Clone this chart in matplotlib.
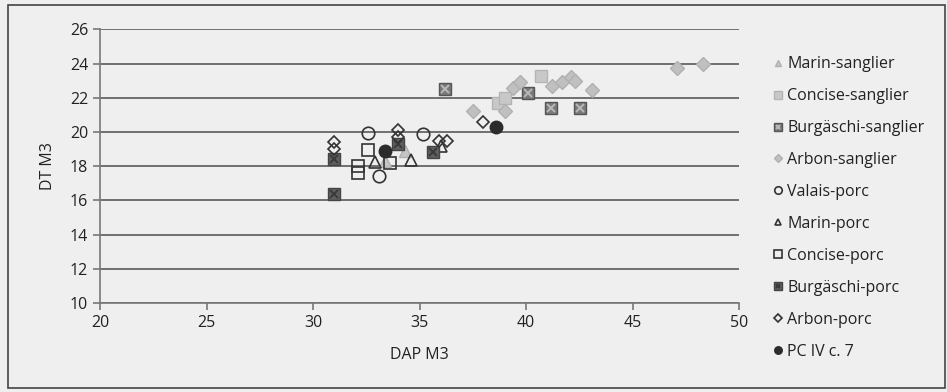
import matplotlib.pyplot as plt
from matplotlib.patches import Rectangle

plt.rcParams['font.family'] = ['Open Sans', 'DejaVu Sans']

# données (DAP M3, DT M3)
marin_sanglier_x = [33.4, 34.3]
marin_sanglier_y = [18.3, 18.9]
concise_sanglier_x = [38.7, 39.0, 40.7]
concise_sanglier_y = [21.7, 22.0, 23.3]
burg_sanglier_x = [36.2, 40.1, 41.15, 42.55]
burg_sanglier_y = [22.5, 22.3, 21.4, 21.4]
arbon_sanglier_x = [37.5, 39.0, 39.4, 39.7, 41.2, 41.7, 42.1, 42.3, 43.1, 47.1, 48.3]
arbon_sanglier_y = [21.2, 21.2, 22.6, 22.9, 22.7, 22.9, 23.2, 23.0, 22.45, 23.75, 24.0]
valais_porc_x = [32.6, 33.1, 35.15]
valais_porc_y = [19.95, 17.4, 19.9]
marin_porc_x = [32.9, 34.6, 36.0]
marin_porc_y = [18.25, 18.35, 19.2]
concise_porc_x = [32.1, 32.1, 32.6, 33.6]
concise_porc_y = [18.0, 17.6, 18.95, 18.2]
burg_porc_x = [31.0, 31.0, 34.0, 35.65]
burg_porc_y = [16.4, 18.4, 19.3, 18.85]
arbon_porc_x = [31.0, 31.0, 34.0, 34.0, 35.9, 36.3, 38.0]
arbon_porc_y = [19.4, 19.0, 20.1, 19.7, 19.5, 19.5, 20.6]
pc_x = [33.4, 38.6]
pc_y = [18.9, 20.3]

bg = '#efefef'
fig = plt.figure(figsize=(9.47, 3.92), dpi=100, facecolor=bg)
ax = fig.add_axes([0.1056, 0.227, 0.6748, 0.698], facecolor=bg)

handles = []
labels = []

h = ax.plot(marin_sanglier_x, marin_sanglier_y, '^', ms=8, color='#c4c4c4', mec='#b0b0b0', ls='none')[0]
handles.append(h); labels.append('Marin-sanglier')
h = ax.plot(concise_sanglier_x, concise_sanglier_y, 's', ms=9, color='#c8c8c8', mec='#b4b4b4', ls='none')[0]
handles.append(h); labels.append('Concise-sanglier')
h1 = ax.plot(burg_sanglier_x, burg_sanglier_y, 's', ms=9, color='#7a7a7a', mec='#555555', ls='none')[0]
h2 = ax.plot(burg_sanglier_x, burg_sanglier_y, 'x', ms=6, mew=1.4, color='#b8b8b8', ls='none')[0]
handles.append((h1, h2)); labels.append('Burgäschi-sanglier')
h = ax.plot(arbon_sanglier_x, arbon_sanglier_y, 'D', ms=7.5, color='#c0c0c0', mec='#b0b0b0', ls='none')[0]
handles.append(h); labels.append('Arbon-sanglier')
h = ax.plot(valais_porc_x, valais_porc_y, 'o', ms=9, mfc='none', mec='#333333', mew=1.2, ls='none')[0]
handles.append(h); labels.append('Valais-porc')
h = ax.plot(marin_porc_x, marin_porc_y, '^', ms=8, mfc='none', mec='#333333', mew=1.2, ls='none')[0]
handles.append(h); labels.append('Marin-porc')
h = ax.plot(concise_porc_x, concise_porc_y, 's', ms=9, mfc='none', mec='#333333', mew=1.2, ls='none')[0]
handles.append(h); labels.append('Concise-porc')
h1 = ax.plot(burg_porc_x, burg_porc_y, 's', ms=9, color='#5e5e5e', mec='#444444', ls='none')[0]
h2 = ax.plot(burg_porc_x, burg_porc_y, 'x', ms=6, mew=1.4, color='#3a3a3a', ls='none')[0]
handles.append((h1, h2)); labels.append('Burgäschi-porc')
h = ax.plot(arbon_porc_x, arbon_porc_y, 'D', ms=6.5, mfc='none', mec='#333333', mew=1.2, ls='none')[0]
handles.append(h); labels.append('Arbon-porc')
h = ax.plot(pc_x, pc_y, 'o', ms=9, color='#2b2b2b', ls='none')[0]
handles.append(h); labels.append('PC IV c. 7')

ax.set_xlim(20, 50)
ax.set_ylim(10, 26)
ax.set_xticks(range(20, 51, 5))
ax.set_yticks(range(10, 27, 2))
ax.grid(axis='y', color='#6f6f6f', lw=1.4)
ax.set_axisbelow(True)
for s in ['top', 'right']:
    ax.spines[s].set_visible(False)
for s in ['left', 'bottom']:
    ax.spines[s].set_color('#777777')
    ax.spines[s].set_linewidth(1.2)
ax.tick_params(colors='#777777', labelcolor='#222222', labelsize=11.5, length=5, width=1.2)
ax.set_xlabel('DAP M3', fontsize=11.5, color='#222222', labelpad=12)
ax.set_ylabel('DT M3', fontsize=11.5, color='#222222', labelpad=10)

leg = fig.legend(handles, labels, loc='upper left', bbox_to_anchor=(0.81, 0.873),
                 frameon=False, fontsize=11.5, handlelength=0.6, handletextpad=0.25,
                 labelspacing=1.0, markerscale=0.6, borderaxespad=0)
for t in leg.get_texts():
    t.set_color('#222222')

# cadre autour de la figure
fig.patches.append(Rectangle((0.008, 0.01), 0.99, 0.978, transform=fig.transFigure,
                             fill=False, ec='#444444', lw=1.2))

fig.savefig('out.png', dpi=100, facecolor=bg)
